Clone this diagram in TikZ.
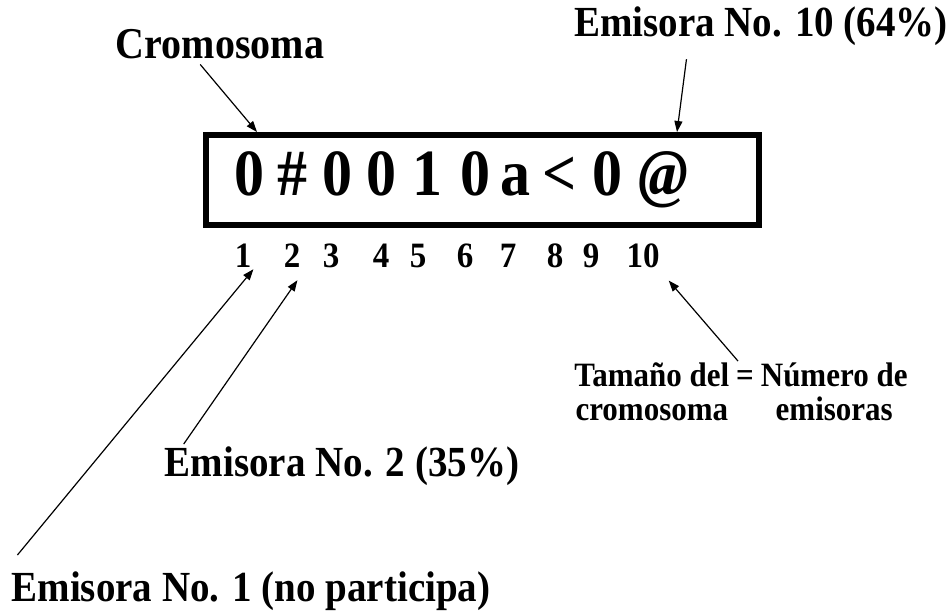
\documentclass[tikz,border=0pt]{standalone}
\usepackage{fontspec}
\setmainfont{Liberation Serif}
\usetikzlibrary{arrows.meta}

% taller letters, as in the printed figure
\newcommand{\alto}[2][1.1]{\scalebox{1}[#1]{#2}}

\tikzset{
  etiqueta/.style={font=\fontsize{39}{44}\selectfont\bfseries, inner sep=2pt, anchor=base},
  gen/.style={font=\fontsize{60}{66}\selectfont\bfseries, inner sep=0pt, anchor=base},
  posicion/.style={font=\fontsize{33}{38}\selectfont\bfseries, inner sep=2pt, anchor=base},
  flecha/.style={-{Triangle[length=11pt,width=8pt]}, line width=1.2pt},
}

\begin{document}
\begin{tikzpicture}[x=1pt, y=-1pt]

  \useasboundingbox (0,0) rectangle (949,611);

  % ---- Chromosome box ----
  \node[draw, line width=6pt, minimum width=553pt, minimum height=90pt,
        inner sep=0pt] (cromo) at (482.5,180) {};

  % genes inside the box
  \foreach \x/\c [count=\i] in {249/0, 292/\#, 337/0, 381/0, 427/1,
                                475/0, 515/a, 560/<, 607/0, 663/{\textit{@}}}
    \node[gen] (c\i) at (\x,195) {\alto[1.1]{\c}};

  % positions under the box
  \foreach \x [count=\i] in {243,292,331,381,418,465,508,555,591,643}
    \node[posicion] (n\i) at (\x,267) {\alto[1.08]{\i}};

  % ---- Labels ----
  \node[etiqueta, font=\fontsize{40}{44}\selectfont\bfseries] (crom) at (220,58) {\alto{Cromosoma}};
  \node[etiqueta] (em10) at (761,36) {\alto{Emisora No. 10 (64\%)}};
  \node[etiqueta] (em2) at (342,476) {\alto{Emisora No. 2 (35\%)}};
  \node[etiqueta] (em1) at (251,601) {\alto{Emisora No. 1 (no participa)}};

  \node[font=\fontsize{31}{34}\selectfont\bfseries, inner sep=2pt] (tam) at (741,396)
    {\alto{\begin{tabular}{@{}c@{\hspace{7pt}}c@{\hspace{7pt}}c@{}}
       Tamaño del & = & Número de\\[-3pt]
       cromosoma  &   & emisoras
     \end{tabular}}};

  % ---- Arrows ----
  \draw[flecha, shorten <=5pt] ([xshift=-23pt]crom.south) -- ([xshift=54pt]cromo.north west);
  \draw[flecha, shorten <=12pt] ([xshift=-73pt]em10.south) -- ([xshift=474pt]cromo.north west);
  \draw[flecha] ([xshift=8pt,yshift=14pt]em1.north west) -- (n1.south east);
  \draw[flecha] ([xshift=21pt]em2.north west) -- ([xshift=-5pt,yshift=-11pt]n2.south east);
  \draw[flecha] ([xshift=-3pt,yshift=-3pt]tam.north) -- ([xshift=7pt,yshift=-11pt]n10.south east);

\end{tikzpicture}
\end{document}
